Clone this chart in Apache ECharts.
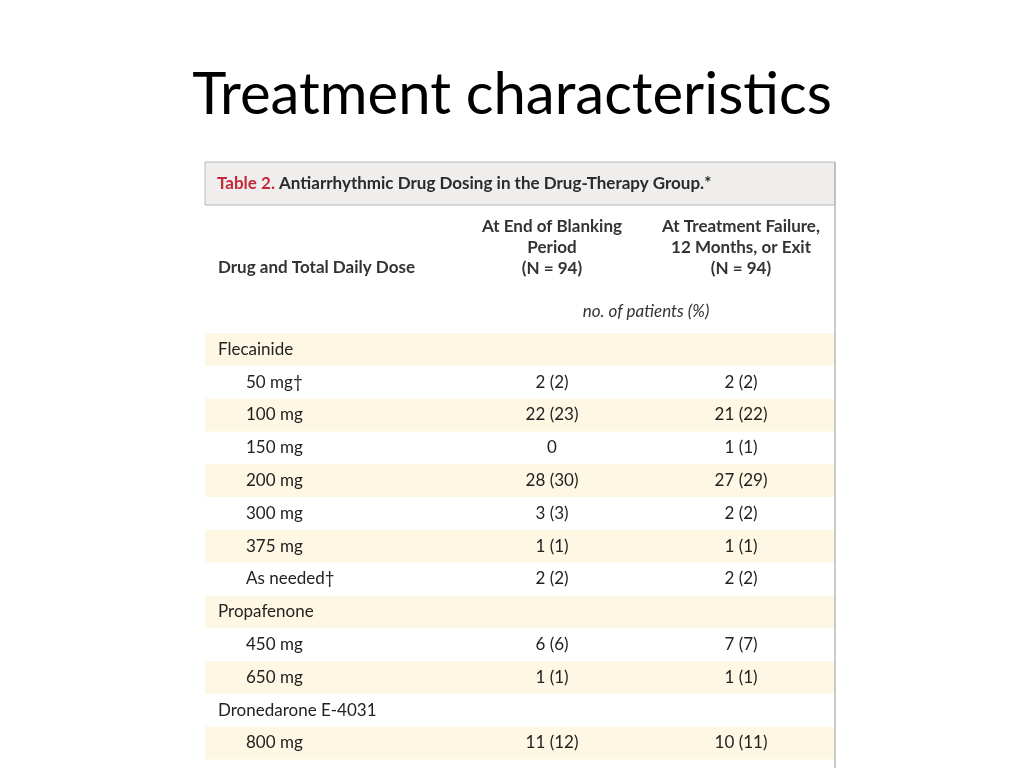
<!DOCTYPE html>
<html><head><meta charset="utf-8">
<script src="https://cdn.jsdelivr.net/npm/echarts@6/dist/echarts.min.js"></script>
<style>html,body{margin:0;padding:0;background:#fff}#c{width:1024px;height:768px}</style>
</head><body><div id="c"></div>
<script>
const rowLabels = ['Flecainide','50 mg†','100 mg','150 mg','200 mg','300 mg','375 mg','As needed†','Propafenone','450 mg','650 mg','Dronedarone E-4031','800 mg'];
const rowIndent = [0,1,1,1,1,1,1,1,0,1,1,0,1];
const blanking = ['','2 (2)','22 (23)','0','28 (30)','3 (3)','1 (1)','2 (2)','','6 (6)','1 (1)','','11 (12)'];
const failure = ['','2 (2)','21 (22)','1 (1)','27 (29)','2 (2)','1 (1)','2 (2)','','7 (7)','1 (1)','','10 (11)'];

const F = 'Lato, "Open Sans", sans-serif';
const L = 205, R = 835, rowH = 32.8, row0 = 333;
const g = [];
g.push({type:'text',left:'center',top:66,style:{text:'Treatment characteristics',font:'58px '+F,fill:'#000'}});
g.push({type:'rect',shape:{x:L,y:162,width:R-L,height:43},style:{fill:'#efeeec',stroke:'#b8b8b8',lineWidth:1}});
g.push({type:'line',shape:{x1:R,y1:162,x2:R,y2:768},style:{stroke:'#b8b8b8',lineWidth:1.5}});
g.push({type:'text',x:217,y:184,style:{text:'{r|Table 2.} Antiarrhythmic Drug Dosing in the Drug-Therapy Group.*',verticalAlign:'middle',font:'bold 17px '+F,fill:'#2a2a2a',rich:{r:{fill:'#c4283a',font:'bold 17px '+F}}}});
g.push({type:'text',x:218,y:268,style:{text:'Drug and Total Daily Dose',verticalAlign:'middle',font:'bold 17px '+F,fill:'#333'}});
g.push({type:'text',x:552,y:248,style:{text:'At End of Blanking\nPeriod\n(N = 94)',align:'center',verticalAlign:'middle',lineHeight:21,font:'bold 17px '+F,fill:'#333'}});
g.push({type:'text',x:741,y:248,style:{text:'At Treatment Failure,\n12 Months, or Exit\n(N = 94)',align:'center',verticalAlign:'middle',lineHeight:21,font:'bold 17px '+F,fill:'#333'}});
g.push({type:'text',x:646,y:312,style:{text:'no. of patients (%)',align:'center',verticalAlign:'middle',font:'italic 17px '+F,fill:'#333'}});
rowLabels.forEach((lab,i)=>{
  const y = row0 + i*rowH;
  if(i%2===0) g.push({type:'rect',shape:{x:L,y:y,width:R-L,height:rowH},style:{fill:'#fdf7e3'},z:-1});
  const cy = y + rowH/2;
  g.push({type:'text',x: rowIndent[i]?246:218,y:cy,style:{text:lab,verticalAlign:'middle',font:'17px '+F,fill:'#222'}});
  if(blanking[i]) g.push({type:'text',x:552,y:cy,style:{text:blanking[i],align:'center',verticalAlign:'middle',font:'17px '+F,fill:'#222'}});
  if(failure[i]) g.push({type:'text',x:741,y:cy,style:{text:failure[i],align:'center',verticalAlign:'middle',font:'17px '+F,fill:'#222'}});
});
const chart = echarts.init(document.getElementById('c'));
chart.setOption({animation:false,graphic:g});
</script></body></html>
